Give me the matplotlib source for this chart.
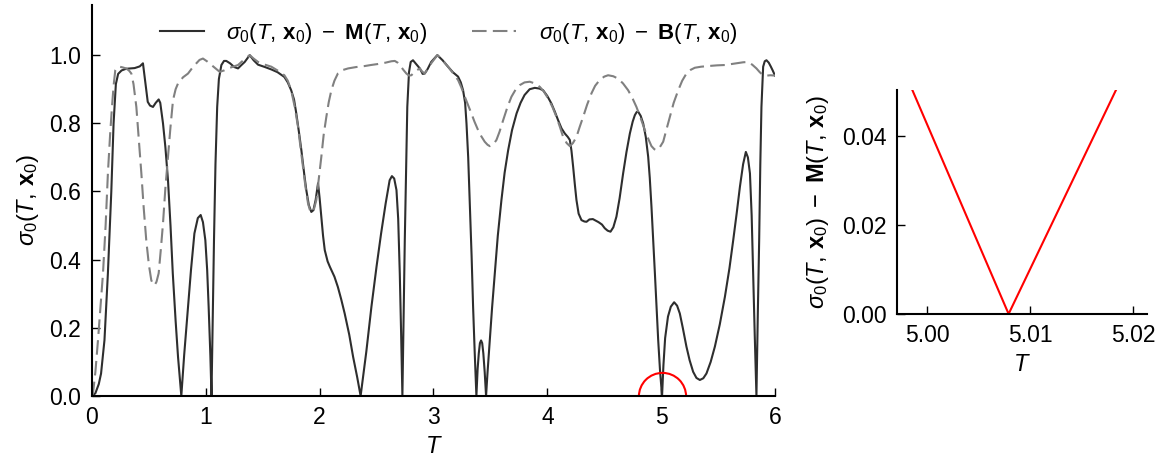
import numpy as np
import matplotlib
matplotlib.use('Agg')
import matplotlib.pyplot as plt

plt.rcParams['font.family'] = ['Liberation Sans', 'DejaVu Sans']
plt.rcParams['mathtext.fontset'] = 'custom'
plt.rcParams['mathtext.rm'] = 'Liberation Sans'
plt.rcParams['mathtext.it'] = 'Liberation Sans:italic'
plt.rcParams['mathtext.bf'] = 'Liberation Sans:bold'

# --- sigma0 - M(T, x0): solid curve ---
T_M = [0.0, 0.03, 0.06, 0.08, 0.11, 0.14, 0.17, 0.19, 0.21, 0.23, 0.26, 0.30,
       0.375, 0.42, 0.448, 0.465, 0.49, 0.51, 0.536, 0.56, 0.586, 0.60, 0.624,
       0.645, 0.668, 0.69, 0.71, 0.735, 0.756, 0.785,
       0.81, 0.844, 0.87, 0.90, 0.93, 0.955, 0.975, 0.996, 1.012, 1.025, 1.04, 1.05,
       1.062, 1.072, 1.085, 1.10, 1.115, 1.137, 1.16, 1.18, 1.213, 1.25, 1.283,
       1.31, 1.342, 1.386, 1.42, 1.459, 1.52, 1.576, 1.63, 1.69, 1.72, 1.75,
       1.775, 1.795, 1.82, 1.84, 1.865, 1.883, 1.905, 1.927, 1.945, 1.965, 1.986,
       2.0, 2.015, 2.03, 2.045, 2.07, 2.09, 2.13, 2.16, 2.19, 2.22, 2.26, 2.294,
       2.33, 2.36,
       2.41, 2.455, 2.50, 2.54, 2.58, 2.615, 2.635, 2.655, 2.675, 2.69, 2.704,
       2.716, 2.727,
       2.737, 2.748, 2.76, 2.77, 2.785, 2.80, 2.82, 2.845, 2.88, 2.905, 2.923,
       2.95, 2.98, 3.034, 3.08, 3.128, 3.17, 3.216, 3.24, 3.26, 3.278, 3.29,
       3.305, 3.32, 3.335, 3.348, 3.362, 3.377,
       3.388, 3.398, 3.408, 3.418, 3.428, 3.438, 3.45, 3.462,
       3.475, 3.495, 3.515, 3.539, 3.565, 3.597, 3.625, 3.656, 3.69, 3.73, 3.765,
       3.80, 3.845, 3.89, 3.93, 3.963, 4.0, 4.036, 4.065, 4.095, 4.125, 4.154,
       4.18, 4.198, 4.212, 4.227, 4.242, 4.256, 4.275, 4.30, 4.325, 4.344, 4.37,
       4.40, 4.45, 4.48, 4.505, 4.53, 4.555, 4.58, 4.607, 4.635, 4.666, 4.695,
       4.725, 4.75, 4.769, 4.785, 4.798, 4.82, 4.842, 4.865, 4.886, 4.90, 4.915,
       4.93, 4.945, 4.96, 4.974, 4.99, 5.008,
       5.02, 5.035, 5.06, 5.085, 5.114, 5.14, 5.164, 5.19, 5.222, 5.25, 5.281,
       5.31, 5.34, 5.37, 5.398, 5.435, 5.472, 5.515, 5.56, 5.60, 5.633, 5.665,
       5.692, 5.72, 5.744, 5.762, 5.78, 5.795, 5.808, 5.822, 5.837,
       5.849, 5.861, 5.871, 5.881, 5.896, 5.91, 5.925, 5.945, 5.964, 5.98, 6.0]
S_M = [0.0, 0.008, 0.035, 0.066, 0.164, 0.36, 0.60, 0.80, 0.915, 0.945, 0.955, 0.96,
       0.962, 0.967, 0.976, 0.93, 0.863, 0.852, 0.848, 0.86, 0.87, 0.86, 0.80,
       0.73, 0.633, 0.50, 0.36, 0.22, 0.115, 0.0,
       0.12, 0.262, 0.37, 0.477, 0.522, 0.531, 0.51, 0.457, 0.37, 0.262, 0.12, 0.0,
       0.25, 0.457, 0.68, 0.848, 0.93, 0.971, 0.983, 0.983, 0.976, 0.965, 0.961,
       0.97, 0.98, 1.0, 0.985, 0.972, 0.965, 0.958, 0.95, 0.936, 0.92, 0.897,
       0.87, 0.829, 0.77, 0.72, 0.65, 0.604, 0.56, 0.54, 0.545, 0.575, 0.624,
       0.58, 0.526, 0.47, 0.428, 0.395, 0.379, 0.35, 0.32, 0.283, 0.242, 0.18, 0.115,
       0.055, 0.0,
       0.13, 0.262, 0.38, 0.477, 0.565, 0.633, 0.645, 0.638, 0.604, 0.52, 0.36,
       0.18, 0.0,
       0.22, 0.457, 0.68, 0.848, 0.95, 0.98, 0.985, 0.975, 0.961, 0.945, 0.946,
       0.96, 0.98, 1.0, 0.985, 0.966, 0.95, 0.937, 0.92, 0.897, 0.86, 0.80,
       0.70, 0.555, 0.41, 0.262, 0.13, 0.0,
       0.08, 0.125, 0.155, 0.163, 0.155, 0.125, 0.07, 0.0,
       0.07, 0.164, 0.26, 0.36, 0.47, 0.575, 0.655, 0.721, 0.78, 0.829, 0.86,
       0.883, 0.90, 0.904, 0.902, 0.897, 0.88, 0.858, 0.835, 0.809, 0.785, 0.77,
       0.76, 0.751, 0.72, 0.672, 0.62, 0.575, 0.535, 0.516, 0.512, 0.511, 0.518,
       0.519, 0.51, 0.503, 0.492, 0.485, 0.482, 0.495, 0.526, 0.58, 0.653, 0.715,
       0.77, 0.805, 0.824, 0.833, 0.834, 0.822, 0.80, 0.76, 0.702, 0.64, 0.555,
       0.46, 0.36, 0.26, 0.164, 0.075, 0.0,
       0.09, 0.17, 0.233, 0.262, 0.275, 0.265, 0.242, 0.2, 0.145, 0.105, 0.071,
       0.053, 0.047, 0.052, 0.066, 0.1, 0.145, 0.21, 0.291, 0.375, 0.457, 0.54,
       0.614, 0.68, 0.716, 0.70, 0.653, 0.53, 0.36, 0.18, 0.0,
       0.24, 0.457, 0.68, 0.848, 0.966, 0.982, 0.985, 0.978, 0.966, 0.955, 0.94]

# --- sigma0 - B(T, x0): dashed curve ---
T_B = [0.0, 0.01, 0.03, 0.053, 0.075, 0.097, 0.12, 0.14, 0.16, 0.176, 0.19, 0.205,
       0.22, 0.243, 0.27, 0.30, 0.325, 0.346, 0.365, 0.378, 0.39, 0.41, 0.434,
       0.455, 0.477, 0.50, 0.521, 0.537, 0.55, 0.567, 0.586, 0.605, 0.624, 0.645,
       0.668, 0.69, 0.712, 0.735, 0.756, 0.80, 0.844, 0.88, 0.917, 0.945, 0.975,
       1.01, 1.05, 1.09, 1.122, 1.16, 1.195, 1.24, 1.283, 1.33, 1.386, 1.42,
       1.459, 1.52, 1.576, 1.63, 1.69, 1.72, 1.75, 1.78, 1.81, 1.83, 1.854,
       1.875, 1.898, 1.915, 1.933, 1.95, 1.971, 1.99, 2.015, 2.035, 2.059, 2.08,
       2.103, 2.13, 2.16, 2.2, 2.25, 2.32, 2.396, 2.45, 2.513, 2.58, 2.63, 2.66,
       2.685, 2.704, 2.735, 2.762, 2.785, 2.806, 2.84, 2.88, 2.90, 2.923, 2.95,
       2.98, 3.034, 3.08, 3.128, 3.17, 3.216, 3.245, 3.275, 3.305, 3.333, 3.36,
       3.392, 3.42, 3.45, 3.475, 3.495, 3.525, 3.553, 3.58, 3.612, 3.65, 3.685,
       3.72, 3.758, 3.80, 3.846, 3.89, 3.934, 3.97, 4.007, 4.045, 4.08, 4.11,
       4.139, 4.17, 4.198, 4.225, 4.256, 4.285, 4.315, 4.35, 4.388, 4.42, 4.46,
       4.50, 4.534, 4.58, 4.622, 4.665, 4.71, 4.75, 4.783, 4.82, 4.857, 4.89,
       4.915, 4.94, 4.959, 4.985, 5.018, 5.045, 5.077, 5.11, 5.15, 5.185, 5.222,
       5.26, 5.296, 5.35, 5.413, 5.49, 5.56, 5.62, 5.677, 5.72, 5.765, 5.80,
       5.837, 5.866, 5.896, 5.93, 5.96, 6.0]
S_B = [0.0, 0.01, 0.07, 0.164, 0.26, 0.36, 0.5, 0.653, 0.77, 0.848, 0.91, 0.956,
       0.964, 0.966, 0.964, 0.961, 0.955, 0.946, 0.915, 0.88, 0.848, 0.76, 0.653,
       0.55, 0.457, 0.385, 0.34, 0.327, 0.325, 0.335, 0.36, 0.43, 0.506, 0.61,
       0.702, 0.79, 0.868, 0.90, 0.917, 0.935, 0.946, 0.962, 0.976, 0.986, 0.99,
       0.982, 0.971, 0.96, 0.951, 0.955, 0.961, 0.966, 0.971, 0.985, 1.0, 0.99,
       0.98, 0.972, 0.966, 0.955, 0.941, 0.925, 0.897, 0.85, 0.79, 0.735, 0.672,
       0.615, 0.565, 0.545, 0.538, 0.548, 0.575, 0.63, 0.702, 0.765, 0.819, 0.862,
       0.897, 0.925, 0.946, 0.956, 0.961, 0.965, 0.968, 0.971, 0.974, 0.978, 0.982, 0.983,
       0.978, 0.971, 0.957, 0.946, 0.94, 0.941, 0.953, 0.961, 0.952, 0.946, 0.96,
       0.976, 1.0, 0.985, 0.966, 0.948, 0.927, 0.905, 0.878, 0.853, 0.829, 0.805,
       0.78, 0.762, 0.746, 0.737, 0.733, 0.738, 0.751, 0.775, 0.809, 0.848, 0.878,
       0.898, 0.912, 0.92, 0.922, 0.917, 0.907, 0.893, 0.873, 0.848, 0.819, 0.79,
       0.760, 0.742, 0.733, 0.742, 0.76, 0.79, 0.819, 0.855, 0.888, 0.91, 0.927,
       0.937, 0.941, 0.938, 0.931, 0.917, 0.897, 0.872, 0.848, 0.815, 0.78, 0.752,
       0.733, 0.724, 0.721, 0.728, 0.746, 0.78, 0.819, 0.86, 0.897, 0.925, 0.946,
       0.957, 0.963, 0.966, 0.968, 0.97, 0.971, 0.974, 0.977, 0.979, 0.98, 0.972,
       0.961, 0.95, 0.941, 0.94, 0.941, 0.94]

# zoom around the zero near T = 5.008
T_zoom = [4.996, 5.0079, 5.022]
S_zoom = [0.064, 0.0, 0.068]
T_zero = 5.008

LABEL_M = r'$\sigma_0(T,\,\mathbf{x}_0)\ -\ \mathbf{M}(T,\,\mathbf{x}_0)$'
LABEL_B = r'$\sigma_0(T,\,\mathbf{x}_0)\ -\ \mathbf{B}(T,\,\mathbf{x}_0)$'
FS = 16.5


def style_axes(ax):
    for side in ['top', 'right']:
        ax.spines[side].set_visible(False)
    for side in ['left', 'bottom']:
        ax.spines[side].set_linewidth(1.5)
    ax.tick_params(direction='in', length=6, width=1, labelsize=FS)
    ax.tick_params(axis='y', pad=8)
    ax.tick_params(axis='x', pad=7)


fig = plt.figure(figsize=(11.64, 4.57), dpi=100)
ax = fig.add_axes([0.079, 0.1335, 0.5868, 0.8555])
ax2 = fig.add_axes([0.771, 0.313, 0.214, 0.49])

ax.plot(T_M, S_M, color='#2e2e2e', lw=1.5, label=LABEL_M)
ax.plot(T_B, S_B, color='#808080', lw=1.5, linestyle=(0, (7, 3)), label=LABEL_B)
ax.plot([T_zero], [0], marker='o', ms=34, mfc='none', mec='red', mew=1.5,
        linestyle='none', clip_on=True)
ax.set_xlim(0, 6)
ax.set_ylim(0, 1.147)
ax.set_xticks(range(0, 7))
ax.set_yticks([0.0, 0.2, 0.4, 0.6, 0.8, 1.0])
ax.set_yticklabels(['0.0', '0.2', '0.4', '0.6', '0.8', '1.0'])
ax.set_xlabel(r'$T$', fontsize=17, labelpad=5)
ax.set_ylabel(r'$\sigma_0(T,\,\mathbf{x}_0)$', fontsize=17, labelpad=6)
style_axes(ax)
ax.legend(loc='upper center', ncol=2, frameon=False, fontsize=16,
          handlelength=2.0, handletextpad=1.0, columnspacing=2.0,
          bbox_to_anchor=(0.522, 1.01))

ax2.plot(T_zoom, S_zoom, color='red', lw=1.5)
ax2.set_xlim(4.9971, 5.0213)
ax2.set_ylim(0, 0.0503)
ax2.set_xticks([5.00, 5.01, 5.02])
ax2.set_xticklabels(['5.00', '5.01', '5.02'])
ax2.set_yticks([0.00, 0.02, 0.04])
ax2.set_yticklabels(['0.00', '0.02', '0.04'])
ax2.set_xlabel(r'$T$', fontsize=17, labelpad=5)
ax2.set_ylabel(LABEL_M, fontsize=17, labelpad=8)
style_axes(ax2)

fig.savefig('out.png', dpi=100)
